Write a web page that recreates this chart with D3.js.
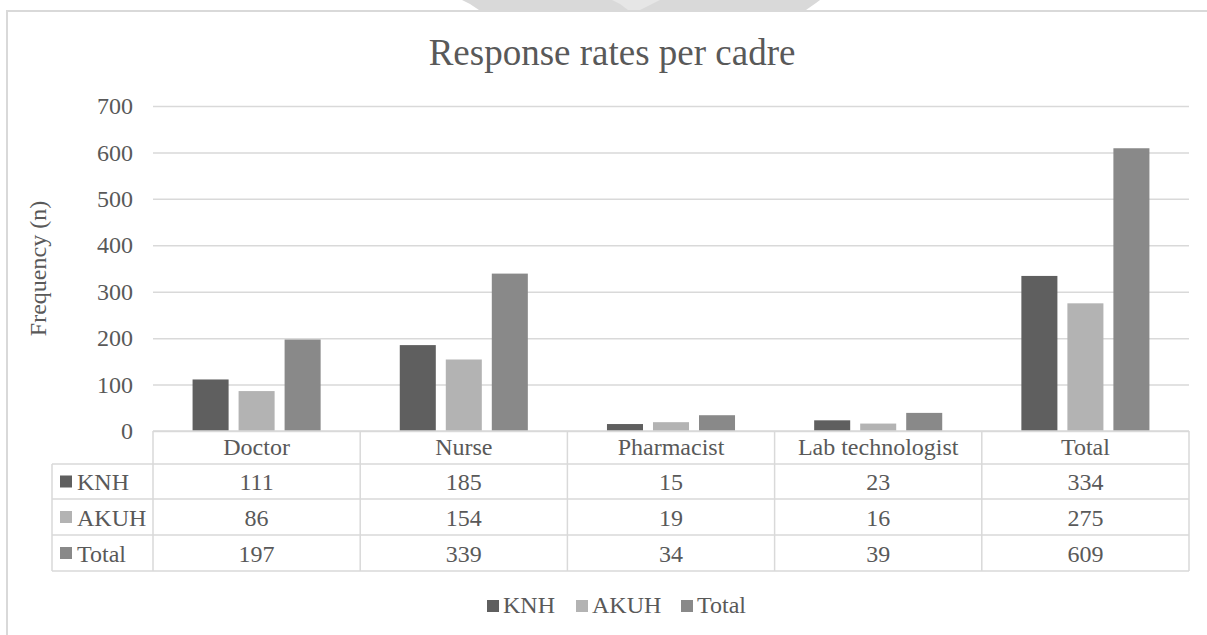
<!DOCTYPE html>
<html>
<head>
	<meta charset="utf-8">
	<title>Response rates per cadre</title>
	<script src="https://d3js.org/d3.v7.min.js"></script>
	<style>
		body { margin: 0; background: #fff; }
		text { font-family: 'Liberation Serif', 'Times New Roman', serif; fill: #595959; }
	</style>
</head>
<body>
	<div class="chart"></div>

	<script type="text/javascript">

		var categories = ['Doctor', 'Nurse', 'Pharmacist', 'Lab technologist', 'Total']
		var seriesNames = ['KNH', 'AKUH', 'Total']
		var knh = [111, 185, 15, 23, 334]
		var akuh = [86, 154, 19, 16, 275]
		var total = [197, 339, 34, 39, 609]
		var yTicks = [0, 100, 200, 300, 400, 500, 600, 700]
		var bColor = ['#5f5f5f', '#b3b3b3', '#898989']

		var seriesValues = [knh, akuh, total]

		var width = 1207
		var height = 635
		var plotLeft = 153
		var plotRight = 1189
		var plotTop = 106
		var plotBase = 431
		var rowH = [33, 35, 36, 36]
		var labelLeft = 52
		var lineColor = '#d9d9d9'

		var svg = d3
			.select('.chart')
			.append('svg')
			.attr('width', width)
			.attr('height', height)

		// faded image edge at the top of the page
		svg.append('polygon')
			.attr('points', '462,0 820,0 816,3 806,10 479,10 470,4')
			.attr('fill', '#d9d9d9')
		svg.append('polygon')
			.attr('points', '612,0 660,0 652,4 640,10 628,10 620,4')
			.attr('fill', '#e6e6e6')

		// outer chart border (left and top visible)
		svg.append('path')
			.attr('d', `M7,${height} L7,11 L${width},11`)
			.attr('fill', 'none')
			.attr('stroke', lineColor)
			.attr('stroke-width', 2)

		// title
		svg.append('text')
			.attr('x', 612)
			.attr('y', 65)
			.attr('text-anchor', 'middle')
			.style('font-size', '37px')
			.text('Response rates per cadre')

		// scales
		var x0 = d3.scaleBand().domain(categories).range([plotLeft, plotRight])
		var x1 = d3.scaleBand().domain(d3.range(seriesNames.length))
			.range([0, x0.bandwidth()])
			.paddingInner(0.217)
			.paddingOuter(0.86)
		var yScale = d3.scaleLinear().domain([0, 700]).range([plotBase, plotTop])

		// grid + y axis
		var yAxis = d3.axisLeft(yScale)
			.tickValues(yTicks)
			.tickSize(-(plotRight - plotLeft))
			.tickPadding(20)
		var gy = svg.append('g')
			.attr('transform', `translate(${plotLeft}, 0)`)
			.call(yAxis)
		gy.select('.domain').remove()
		gy.selectAll('line').attr('stroke', lineColor).attr('stroke-width', 1.5)
		gy.selectAll('text')
			.attr('fill', '#595959')
			.style('font-size', '24px')
			.style('font-family', "'Liberation Serif', serif")

		svg.append('text')
			.attr('transform', `translate(46, ${(plotTop + plotBase) / 2}) rotate(-90)`)
			.attr('text-anchor', 'middle')
			.style('font-size', '24px')
			.text('Frequency (n)')

		// bars
		var groups = svg.append('g')
			.selectAll('g')
			.data(seriesValues)
			.enter()
			.append('g')
			.attr('fill', (d, i) => bColor[i])

		groups.selectAll('rect')
			.data((d, i) => d.map((v, j) => ({ v: v, s: i, c: categories[j] })))
			.enter()
			.append('rect')
			.attr('x', (d) => x0(d.c) + x1(d.s))
			.attr('y', (d) => yScale(d.v))
			.attr('width', x1.bandwidth())
			.attr('height', (d) => plotBase - yScale(d.v))

		// data table
		var rowY = [plotBase]
		rowH.forEach((h, i) => rowY.push(rowY[i] + h))
		var table = svg.append('g')
			.attr('stroke', lineColor)
			.attr('stroke-width', 1.5)
			.attr('fill', 'none')

		// horizontal lines
		rowY.forEach((y, i) => {
			table.append('line')
				.attr('x1', i === 0 ? plotLeft : labelLeft)
				.attr('x2', plotRight)
				.attr('y1', y)
				.attr('y2', y)
		})
		// vertical lines
		table.append('line')
			.attr('x1', labelLeft).attr('x2', labelLeft)
			.attr('y1', rowY[1]).attr('y2', rowY[4])
		categories.concat(['end']).forEach((c, i) => {
			var xx = i < categories.length ? x0(c) : plotRight
			table.append('line')
				.attr('x1', xx).attr('x2', xx)
				.attr('y1', rowY[0]).attr('y2', rowY[4])
		})

		// header text
		svg.append('g')
			.selectAll('text')
			.data(categories)
			.enter()
			.append('text')
			.attr('x', (d) => x0(d) + x0.bandwidth() / 2)
			.attr('y', rowY[1] - 9)
			.attr('text-anchor', 'middle')
			.style('font-size', '24px')
			.text((d) => d)

		// rows
		seriesValues.forEach((vals, i) => {
			var yb = rowY[i + 2] - 9
			svg.append('rect')
				.attr('x', 60)
				.attr('y', rowY[i + 1] + (rowY[i + 2] - rowY[i + 1]) / 2 - 6)
				.attr('width', 12)
				.attr('height', 12)
				.attr('fill', bColor[i])
			svg.append('text')
				.attr('x', 77)
				.attr('y', yb)
				.style('font-size', '24px')
				.text(seriesNames[i])
			svg.append('g')
				.selectAll('text')
				.data(vals)
				.enter()
				.append('text')
				.attr('x', (d, j) => x0(categories[j]) + x0.bandwidth() / 2)
				.attr('y', yb)
				.attr('text-anchor', 'middle')
				.style('font-size', '24px')
				.text((d) => d)
		})

		// legend
		var legendX = [487, 576, 681]
		var legend = svg.append('g')
			.selectAll('g')
			.data(seriesNames)
			.enter()
			.append('g')
			.attr('transform', (d, i) => `translate(${legendX[i]}, 600)`)
		legend.append('rect')
			.attr('width', 12)
			.attr('height', 12)
			.attr('fill', (d, i) => bColor[i])
		legend.append('text')
			.attr('x', 16)
			.attr('y', 13)
			.style('font-size', '24px')
			.text((d) => d)

	</script>
</body>
</html>
